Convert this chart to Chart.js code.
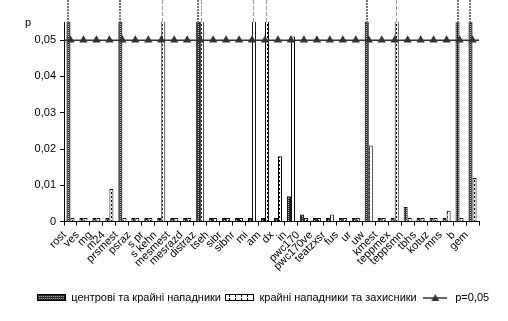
<!DOCTYPE html>
<html><head><meta charset="utf-8">
<script src="https://cdn.jsdelivr.net/npm/chart.js@4/dist/chart.umd.min.js"></script>
<style>html,body{margin:0;padding:0;background:#fff}#wrap{width:508px;height:321px}</style>
</head><body><div id="wrap"><canvas id="c" width="508" height="321"></canvas></div>
<script>
const categories = ['rost','ves','mg','m24','prsmest','psraz','s pr','s kehn','mesmest','mesrazd','distraz','tseh','sibr','sibnr','mi','am','dx','in','pwc170','pwc170ve','teatzxsr','fus','ur','uw','kmest','teppmex','teppsmn','tbhs','kotuz','mns','b','gem'];
const centreWingForwards = [0.1,0.001,0.001,0.001,0.1,0.001,0.001,0.001,0.001,0.001,0.1,0.001,0.001,0.001,0.001,0.001,0.001,0.007,0.002,0.001,0.001,0.001,0.001,0.1,0.001,0.001,0.004,0.001,0.001,0.001,0.1,0.1];
const wingForwardsDefenders = [0.001,0.001,0.001,0.009,0.001,0.001,0.001,0.1,0.001,0.001,0.1,0.001,0.001,0.001,0.1,0.1,0.018,0.051,0.001,0.001,0.002,0.001,0.001,0.021,0.001,0.1,0.001,0.001,0.001,0.003,0.001,0.012];
const pLevel = [0.05,0.05,0.05,0.05,0.05,0.05,0.05,0.05,0.05,0.05,0.05,0.05,0.05,0.05,0.05,0.05,0.05,0.05,0.05,0.05,0.05,0.05,0.05,0.05,0.05,0.05,0.05,0.05,0.05,0.05,0.05,0.05];
const yTicks = [0,0.01,0.02,0.03,0.04,0.05];
const seriesNames = ['центрові та крайні нападники','крайні нападники та захисники','p=0,05'];
const yTitle = 'p';

const FONT = 'Liberation Sans';
function mk(w,h,fn){const c=document.createElement('canvas');c.width=w;c.height=h;fn(c.getContext('2d'));return c;}
const darkPat = mk(2,2,g=>{g.fillStyle='#262626';g.fillRect(0,0,2,2);g.fillStyle='#bdbdbd';g.fillRect(0,0,1,1);});
const whitePat = mk(3,4,g=>{g.fillStyle='#fff';g.fillRect(0,0,3,4);g.fillStyle='#000';g.fillRect(0,0,1,2);});
const ctx0 = document.getElementById('c').getContext('2d');
const darkFill = ctx0.createPattern(darkPat,'repeat');
const whiteFill = ctx0.createPattern(whitePat,'repeat');
const legDark = mk(29,7,g=>{g.fillStyle=g.createPattern(darkPat,'repeat');g.fillRect(0,0,29,7);g.strokeStyle='#000';g.lineWidth=1;g.strokeRect(0.5,0.5,28,6);});
const legWhite = mk(29,7,g=>{g.fillStyle='#fff';g.fillRect(0,0,29,7);g.fillStyle='#000';for(let x=4;x<28;x+=6){g.fillRect(x,1,1,2);g.fillRect(x,4,1,2);}g.strokeStyle='#000';g.lineWidth=1;g.strokeRect(0.5,0.5,28,6);});
const legLine = mk(24,9,g=>{g.strokeStyle='#333';g.lineWidth=1.5;g.beginPath();g.moveTo(0,5);g.lineTo(24,5);g.stroke();g.fillStyle='#333';g.beginPath();g.moveTo(12,1);g.lineTo(16,8);g.lineTo(8,8);g.closePath();g.fill();});

const extras = {
  id:'extras',
  afterDatasetsDraw(chart){
    const g=chart.ctx, a=chart.chartArea, y=chart.scales.y;
    [0,1].forEach(di=>{
      const meta=chart.getDatasetMeta(di);
      meta.data.forEach((el,i)=>{
        const v=chart.data.datasets[di].data[i];
        if(v<=y.max) return;
        g.save();
        if(di===0){
          for(let yy=0;yy<a.top;yy+=3){g.fillStyle='#777';g.fillRect(Math.round(el.x-el.width/2)+1,yy,Math.max(2,Math.round(el.width)-2),2);}
        } else {
          g.fillStyle='#999';
          for(let yy=0;yy<a.top;yy+=6){g.fillRect(Math.round(el.x-el.width/2)+1,yy,1,4);}
        }
        g.restore();
      });
    });
    const lm=chart.getDatasetMeta(2);
    const py=y.getPixelForValue(pLevel[0]);
    g.save();g.strokeStyle='#333';g.lineWidth=1.5;g.beginPath();
    g.moveTo(a.left,py);g.lineTo(lm.data[0].x,py);
    g.moveTo(lm.data[lm.data.length-1].x,py);g.lineTo(a.right,py);g.stroke();g.restore();
  },
  afterDraw(chart){
    const g=chart.ctx;g.save();g.font='11px "'+FONT+'"';g.fillStyle='#000';g.textAlign='center';g.textBaseline='middle';
    g.fillText(yTitle, chart.chartArea.left-36, chart.chartArea.top+1);g.restore();
  }
};

new Chart(document.getElementById('c'),{
  data:{labels:categories,datasets:[
    {type:'bar',label:seriesNames[0],data:centreWingForwards,backgroundColor:darkFill,borderColor:'#000',borderWidth:1,categoryPercentage:0.62,barPercentage:1,clip:0,order:2},
    {type:'bar',label:seriesNames[1],data:wingForwardsDefenders,backgroundColor:whiteFill,borderColor:'#000',borderWidth:1,categoryPercentage:0.62,barPercentage:1,clip:0,order:2},
    {type:'line',label:seriesNames[2],data:pLevel,borderColor:'#333',borderWidth:1.5,pointStyle:'triangle',pointRadius:4.8,pointBackgroundColor:'#333',pointBorderColor:'#333',pointBorderWidth:0,clip:false,order:1}
  ]},
  options:{
    responsive:false,animation:false,devicePixelRatio:1,
    layout:{padding:{left:18,top:22,right:0,bottom:8}},
    font:{family:FONT},
    plugins:{
      tooltip:{enabled:false},
      legend:{position:'bottom',labels:{usePointStyle:true,pointStyleWidth:29,padding:4,color:'#000',font:{family:FONT,size:11},
        generateLabels(chart){return [legDark,legWhite,legLine].map((p,i)=>({text:seriesNames[i],pointStyle:p,fillStyle:'#fff',strokeStyle:'#000',lineWidth:0,hidden:false,datasetIndex:i,fontColor:'#000'}));}}}
    },
    scales:{
      x:{grid:{offset:true,drawOnChartArea:false,drawTicks:true,tickLength:4,color:'#000'},border:{color:'#000'},
         afterFit(s){s.height+=12;},
         ticks:{autoSkip:false,maxRotation:45,minRotation:45,padding:3,labelOffset:-6,color:'#000',font:{family:FONT,size:11}}},
      y:{min:0,max:0.055,afterBuildTicks(s){s.ticks=yTicks.map(v=>({value:v}));},
         afterFit(s){s.width=46;},
         grid:{drawOnChartArea:false,drawTicks:true,tickLength:4,color:'#000'},border:{color:'#000'},
         ticks:{padding:4,color:'#000',font:{family:FONT,size:11},callback:v=>v===0?'0':v.toFixed(2).replace('.',',')}},
      yR:{type:'linear',position:'right',display:true,grid:{display:false,drawTicks:false},border:{display:false},
         ticks:{display:false},afterFit(s){s.width=29;}}
    }
  },
  plugins:[extras]
});
</script></body></html>
